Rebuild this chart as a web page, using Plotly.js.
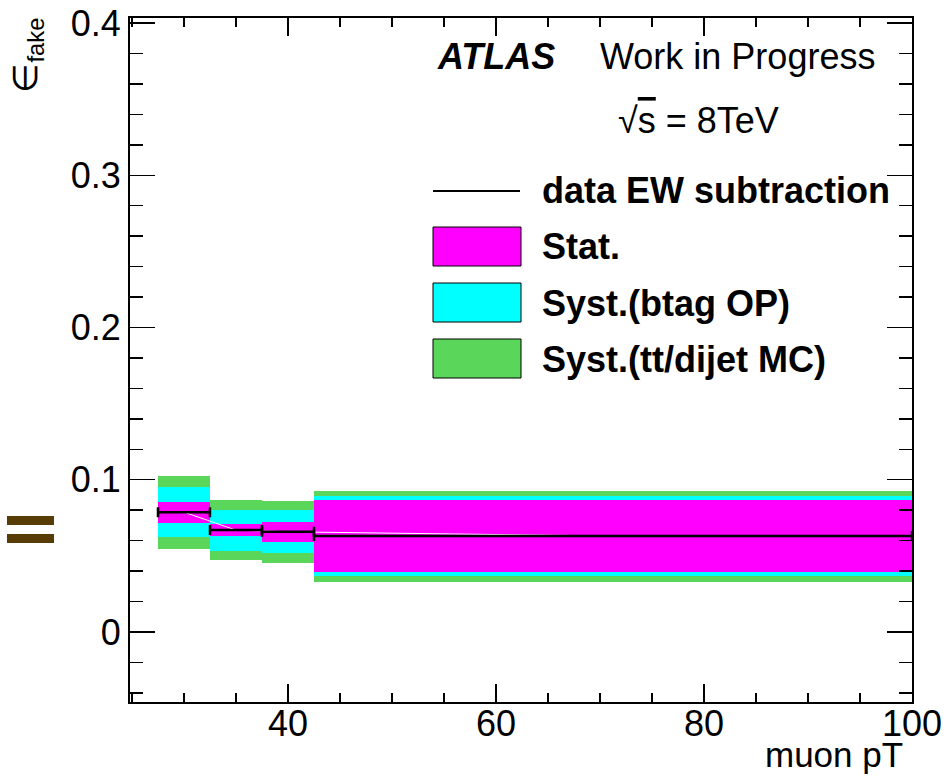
<!DOCTYPE html>
<html><head><meta charset="utf-8">
<script src="https://cdn.plot.ly/plotly-3.0.1.min.js"></script>
<style>body{margin:0;background:#fff}</style>
</head><body>
<div id="chart" style="width:944px;height:780px"></div>
<script>
// bins in muon pT
const binLow  = [27.5, 32.5, 37.5, 42.5];
const binHigh = [32.5, 37.5, 42.5, 100];
// fake efficiency (data EW subtraction)
const effFake = [0.0787, 0.0669, 0.0658, 0.0630];
// band half-widths
const statErr = [0.0070, 0.0040, 0.0066, 0.0237];
const btagErr = [0.0165, 0.0135, 0.0140, 0.0263];
const mcErr   = [0.0239, 0.0197, 0.0203, 0.0299];
const legendLabels = ["data EW subtraction", "Stat.", "Syst.(btag OP)", "Syst.(tt/dijet MC)"];

const centers = binLow.map((l,i)=>(l+binHigh[i])/2);
const widths = binLow.map((l,i)=>binHigh[i]-l);
const halfW = widths.map(w=>w/2);

function band(err, color){
  return {type:'bar', x:centers, width:widths,
    base: effFake.map((v,i)=>v-err[i]), y: err.map(e=>2*e),
    marker:{color:color, line:{width:0}}, hoverinfo:'skip', showlegend:false};
}
const cMag='#ff00ff', cCyan='#00ffff', cGreen='#5ad75a';
const traces = [
  band(mcErr, cGreen), band(btagErr, cCyan), band(statErr, cMag),
  {type:'scatter', mode:'lines', x:centers, y:effFake, line:{color:'#ffffff', width:1}, showlegend:false, hoverinfo:'skip'},
  {type:'scatter', mode:'markers', x:centers, y:effFake, marker:{size:1, color:'rgba(0,0,0,0)'},
   error_x:{type:'data', symmetric:true, array:halfW, color:'#000', thickness:2.5, width:5}, showlegend:false}
];

const L=130, R=912, T=18, B=702;
const fx = x=>(x-L)/(R-L), fy = y=>(B-y)/(B-T);
const FONT = '"Liberation Sans", Arial, Helvetica, sans-serif';

function ann(text, x, y, opts){
  return Object.assign({xref:'paper', yref:'paper', x:fx(x), y:fy(y), text:text, showarrow:false,
    xanchor:'left', yanchor:'middle', font:{family:FONT, size:36, color:'#000'}}, opts||{});
}
const shapes = [
  {type:'line', xref:'paper', yref:'paper', x0:fx(433), x1:fx(520), y0:fy(191), y1:fy(191), line:{color:'#000', width:2}},
];
const boxColors=[cMag,cCyan,cGreen];
const boxTop=[227,283,339];
boxTop.forEach((t,i)=>shapes.push({type:'rect', xref:'paper', yref:'paper', x0:fx(433), x1:fx(521), y0:fy(t), y1:fy(t+39),
  fillcolor:boxColors[i], line:{color:'#000', width:1}}));
// brown marks at left
[[516,525],[534,543]].forEach(r=>shapes.push({type:'rect', xref:'paper', yref:'paper', x0:fx(7), x1:fx(54), y0:fy(r[0]), y1:fy(r[1]),
  fillcolor:'#573d05', line:{width:0}}));

const annotations = [
  ann('<b><i>ATLAS</i></b>', 435, 57),
  ann('Work in Progress', 598, 57),
  ann('√<span style="text-decoration:overline">s</span> = 8TeV', 616, 120),
  ann('<b>'+legendLabels[0]+'</b>', 540, 191),
  ann('<b>'+legendLabels[1]+'</b>', 540, 247),
  ann('<b>'+legendLabels[2]+'</b>', 540, 303),
  ann('<b>'+legendLabels[3]+'</b>', 540, 359),
  ann('muon pT', 905, 754, {xanchor:'right', font:{family:FONT, size:35, color:'#000'}}),
  ann('∈<sub>fake</sub>', 27, 16, {xanchor:'center', yanchor:'top', textangle:-90, font:{family:FONT, size:34, color:'#000'}})
];

const axisCommon = {showline:true, linecolor:'#000', linewidth:2, mirror:'ticks', ticks:'inside',
  tickcolor:'#000', tickwidth:1.5, showgrid:false, zeroline:false,
  tickfont:{family:FONT, size:36, color:'#000'}};

const layout = {
  width:944, height:780, margin:{l:L, r:944-R, t:T, b:780-B},
  paper_bgcolor:'#fff', plot_bgcolor:'#fff', barmode:'overlay', bargap:0, showlegend:false,
  xaxis: Object.assign({}, axisCommon, {range:[24.81,100], tick0:0, dtick:20, ticklen:18, ticklabelstandoff:-11,
    minor:{dtick:5, ticklen:9, ticks:'inside', tickcolor:'#000', tickwidth:1.5}}),
  yaxis: Object.assign({}, axisCommon, {range:[-0.046,0.4033], tick0:0, dtick:0.1, ticklen:25,
    minor:{dtick:0.02, ticklen:13, ticks:'inside', tickcolor:'#000', tickwidth:1.5}}),
  shapes:shapes, annotations:annotations
};
Plotly.newPlot('chart', traces, layout, {displayModeBar:false, staticPlot:true});
</script>
</body></html>
